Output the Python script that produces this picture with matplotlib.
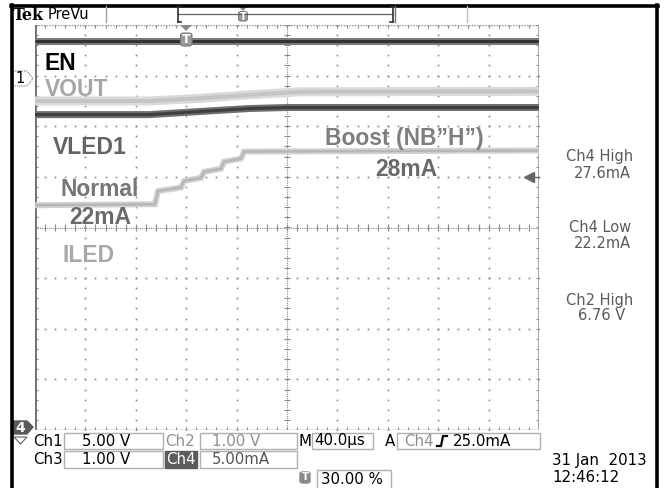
import numpy as np
import matplotlib
matplotlib.use("Agg")
import matplotlib.pyplot as plt
from matplotlib.patches import Rectangle, Polygon, FancyBboxPatch
from matplotlib.collections import LineCollection

# ---------------- data ----------------
time_per_div_us = 40.0
trigger_position = 0.30            # 30.00 %
t_start = -trigger_position * 10 * time_per_div_us
t_end = t_start + 10 * time_per_div_us

# Ch1 : EN (5.00 V/div, ground marker 2.96 div above centre)
en_t = [-120, 280]
en_v = [3.6, 3.6]
ch1_scale, ch1_offset_div = 5.0, 2.96

# Ch2 : VOUT (1.00 V/div)
vout_t = [-120, -29, 10, 50, 90, 280]
vout_v = [6.57, 6.57, 6.62, 6.69, 6.75, 6.76]
ch2_scale, ch2_offset_div = 1.0, -4.07

# Ch3 : VLED1 (1.00 V/div)
vled_t = [-120, -29, 10, 50, 80, 280]
vled_v = [5.23, 5.23, 5.29, 5.35, 5.37, 5.37]
ch3_scale, ch3_offset_div = 1.0, -3.0

# Ch4 : ILED (5.00 mA/div, 20 mA at centre)
iled_t = [-120, -24.8, -22.4, -4.1, -1.7, 11.7, 14.1, 27.6, 30.0, 43.5, 45.9, 280]
iled_ma = [22.2, 22.3, 23.6, 23.95, 24.6, 24.9, 25.5, 25.8, 26.5, 26.8, 27.5, 27.6]
ch4_scale, ch4_center = 5.0, 20.0
trigger_level_ma = 25.0

readouts = [("Ch4 High", "27.6mA"), ("Ch4 Low", "22.2mA"), ("Ch2 High", "6.76 V")]

# ---------------- figure ----------------
W, H = 672, 488
fig = plt.figure(figsize=(W / 100, H / 100), dpi=100)
fig.patch.set_facecolor("white")


def fx(x):
    return x / W


def fy(y):
    return 1 - y / H


GL, GR, GT, GB = 35, 539, 25, 430
rect = [fx(GL), fy(GB), (GR - GL) / W, (GB - GT) / H]

# graticule axes in division units
grat = fig.add_axes(rect)
grat.set_xlim(0, 10)
grat.set_ylim(-4, 4)
grat.axis("off")

gcol = "#8a8a8a"
dots = np.arange(-4, 4.001, 0.2)
hdots = np.arange(0, 10.001, 0.2)
for k in range(1, 10):
    if k == 5:
        continue
    grat.plot(np.full_like(dots, k), dots, ls="none", marker="s", ms=1.2,
              mew=0, color=gcol)
for j in range(-3, 4):
    if j == 0:
        continue
    grat.plot(hdots, np.full_like(hdots, j), ls="none", marker="s", ms=1.2,
              mew=0, color=gcol)

# centre lines with ticks
grat.plot([5, 5], [-4, 4], ls=(0, (1, 1)), lw=0.8, color=gcol)
grat.plot([0, 10], [0, 0], ls=(0, (1, 1)), lw=0.8, color=gcol)
segs = []
for y in dots:
    segs.append([(5 - 0.05, y), (5 + 0.05, y)])
for x in hdots:
    segs.append([(x, -0.06), (x, 0.06)])
# border ticks
for x in hdots:
    segs.append([(x, 4), (x, 3.94)])
    segs.append([(x, -4), (x, -3.94)])
for y in dots:
    segs.append([(10, y), (9.94, y)])
    segs.append([(0, y), (0.06, y)])
grat.add_collection(LineCollection(segs, colors=gcol, linewidths=0.8))
grat.plot([0, 10], [4, 4], ls=(0, (1, 1)), lw=1.0, color=gcol)
grat.plot([0, 10], [-4, -4], lw=1.0, color=gcol)
grat.plot([10, 10], [-4, 4], lw=1.2, color="#9a9a9a")
grat.plot([0, 0], [-4, 4], lw=2.0, color="#707070")


def chan_axes(label, ylim):
    a = fig.add_axes(rect, label=label)
    a.set_xlim(t_start, t_end)
    a.set_ylim(*ylim)
    a.axis("off")
    return a


ax1 = chan_axes("ch1", ((-4 - ch1_offset_div) * ch1_scale, (4 - ch1_offset_div) * ch1_scale))
ax2 = chan_axes("ch2", ((-4 - ch2_offset_div) * ch2_scale, (4 - ch2_offset_div) * ch2_scale))
ax3 = chan_axes("ch3", ((-4 - ch3_offset_div) * ch3_scale, (4 - ch3_offset_div) * ch3_scale))
ax4 = chan_axes("ch4", (ch4_center - 4 * ch4_scale, ch4_center + 4 * ch4_scale))


def trace(ax, t, v, band, core, bw, cw):
    ax.plot(t, v, color=band, lw=bw * 0.72, solid_capstyle="butt", solid_joinstyle="miter")
    ax.plot(t, v, color=core, lw=cw * 0.72, solid_capstyle="butt", solid_joinstyle="miter")


trace(ax1, en_t, en_v, "#7a7a7a", "#333333", 7, 3)
trace(ax2, vout_t, vout_v, "#dadada", "#c4c4c4", 9, 4)
trace(ax3, vled_t, vled_v, "#6e6e6e", "#3e3e3e", 7, 3)
trace(ax4, iled_t, iled_ma, "#d2d2d2", "#b6b6b6", 6, 2.5)

# trigger level marker
ax4.plot([t_end - 0.2 * time_per_div_us], [trigger_level_ma], marker="<", ms=6.5,
         color="#666666", clip_on=False)
ax4.plot([t_end - 0.2 * time_per_div_us, t_end], [trigger_level_ma] * 2,
         color="#666666", lw=1, clip_on=False)

# ---------------- overlay drawing in pixel coordinates ----------------
def line(xs, ys, **kw):
    fig.add_artist(plt.Line2D([fx(x) for x in xs], [fy(y) for y in ys],
                              transform=fig.transFigure, **kw))


def box(x0, y0, x1, y1, ec="#b0b0b0", fc="none", lw=1.0):
    fig.add_artist(Rectangle((fx(x0), fy(y1)), (x1 - x0) / W, (y1 - y0) / H,
                             transform=fig.transFigure, ec=ec, fc=fc, lw=lw))


def poly(pts, **kw):
    fig.add_artist(Polygon([(fx(x), fy(y)) for x, y in pts], closed=True,
                           transform=fig.transFigure, **kw))


def txt(x, y, s, size=11, color="black", ha="left", weight="normal",
        family="DejaVu Sans", **kw):
    fig.text(fx(x), fy(y), s, fontsize=size, color=color, ha=ha, va="center",
             fontweight=weight, family=family, **kw)


# outer frame
line([11.5, 11.5], [5, 488], color="black", lw=2.6)
line([657, 657], [5, 488], color="black", lw=2.6)
line([11, 658], [5.5, 5.5], color="black", lw=2.6)

# header
txt(13, 15.5, "Tek", size=11.5, weight="bold", family="DejaVu Serif")
txt(48, 14.5, "PreVu", size=10.5)
line([106, 106], [6, 22], color="#a0a0a0", lw=1)
line([395, 395], [6, 22], color="#707070", lw=1)
line([467, 467], [6, 22], color="#c0c0c0", lw=1)
line([178, 393], [14, 14], color="#606060", lw=0.9)
line([178, 178], [7, 22], color="#303030", lw=1.2)
line([393, 393], [7, 22], color="#303030", lw=1.2)
line([178, 181], [7, 7], color="#303030", lw=1.2)
line([178, 181], [22, 22], color="#303030", lw=1.2)
line([390, 393], [7, 7], color="#303030", lw=1.2)
line([390, 393], [22, 22], color="#303030", lw=1.2)
poly([(239, 7), (247, 7), (243, 11)], fc="#8a8a8a", ec="none")
fig.add_artist(FancyBboxPatch((fx(238.5), fy(21)), 9 / W, 9.5 / H,
                              boxstyle="round,pad=0,rounding_size=0.004",
                              transform=fig.transFigure, fc="#9a9a9a", ec="#808080", lw=0.8))
txt(243, 16.5, "T", size=7, color="white", ha="center", weight="bold")

# trigger position marker on graticule
poly([(180, 25), (192, 25), (186, 31)], fc="#8a8a8a", ec="none")
fig.add_artist(FancyBboxPatch((fx(180.5), fy(46)), 11.5 / W, 13 / H,
                              boxstyle="round,pad=0,rounding_size=0.005",
                              transform=fig.transFigure, fc="#9a9a9a", ec="#7a7a7a", lw=0.8))
txt(186.3, 39.5, "T", size=9, color="white", ha="center", weight="bold")

# channel 1 ground marker
poly([(13, 71), (27, 71), (33, 78.5), (27, 86), (13, 86)], fc="white", ec="#707070",
     lw=0.8, ls=(0, (1, 1)))
txt(20, 78.5, "1", size=10.5, ha="center")

# channel 4 marker
poly([(13, 421), (27, 421), (33, 427), (27, 434), (13, 434)], fc="#5a5a5a", ec="#5a5a5a")
txt(20, 427.5, "4", size=10, ha="center", color="white", weight="bold")
poly([(14, 437), (27, 437), (20.5, 444)], fc="white", ec="#606060", lw=0.8)

# annotation labels inside graticule
lab = dict(size=16.5, weight="bold", family="Liberation Sans")
txt(45, 64, "EN", color="black", **lab)
txt(45, 89, "VOUT", color="#a6a6a6", **lab)
txt(53, 147, "VLED1", color="#646464", **lab)
txt(60, 190, "Normal", color="#767676", **lab)
txt(69, 218, "22mA", color="#6a6a6a", **lab)
txt(63, 256, "ILED", color="#a8a8a8", **lab)
txt(325, 138, "Boost (NB\u201dH\u201d)", color="#7e7e7e", **lab)
txt(375, 169, "28mA", color="#6a6a6a", **lab)

# right side measurement readouts
ys = [(157, 173), (228, 244), (300, 315)]
for (a, b), (y1, y2) in zip(readouts, ys):
    txt(600, y1, a, size=10.5, color="#5a5a5a", ha="center")
    txt(602, y2, b, size=10.5, color="#5a5a5a", ha="center")

# bottom status area
fs = 10.8
txt(33, 441, "Ch1", size=fs)
box(64, 433, 163, 449)
txt(82, 441, "5.00 V", size=fs)
txt(165, 441, "Ch2", size=fs, color="#909090")
box(200, 433, 297, 449)
txt(212, 441, "1.00 V", size=fs, color="#909090")
txt(298, 441, "M", size=fs)
box(312, 433, 373, 449)
txt(314, 441, "40.0\u00b5s", size=fs)
txt(385, 441, "A", size=fs)
box(397, 433, 540, 449)
txt(404, 441, "Ch4", size=fs, color="#909090")
line([437, 441, 443, 447], [446, 446, 436, 436], color="black", lw=1.6)
txt(453, 441, "25.0mA", size=fs)

txt(33, 460, "Ch3", size=fs)
box(64, 451, 163, 468)
txt(82, 460, "1.00 V", size=fs)
box(165, 451, 197, 468, ec="#5c5c5c", fc="#5c5c5c")
txt(166, 460, "Ch4", size=fs, color="white")
box(200, 451, 297, 468)
txt(212, 460, "5.00mA", size=fs, color="#555555")

fig.add_artist(FancyBboxPatch((fx(300), fy(483)), 10 / W, 11 / H,
                              boxstyle="round,pad=0,rounding_size=0.004",
                              transform=fig.transFigure, fc="#8a8a8a", ec="#8a8a8a"))
txt(305, 477.5, "T", size=7.5, color="white", ha="center", weight="bold")
box(317, 470, 391, 489)
txt(321, 479, "30.00 %", size=fs)

txt(552, 461, "31 Jan  2013", size=fs)
txt(552, 478, "12:46:12", size=fs)

fig.savefig("out.png", dpi=100, facecolor="white")
